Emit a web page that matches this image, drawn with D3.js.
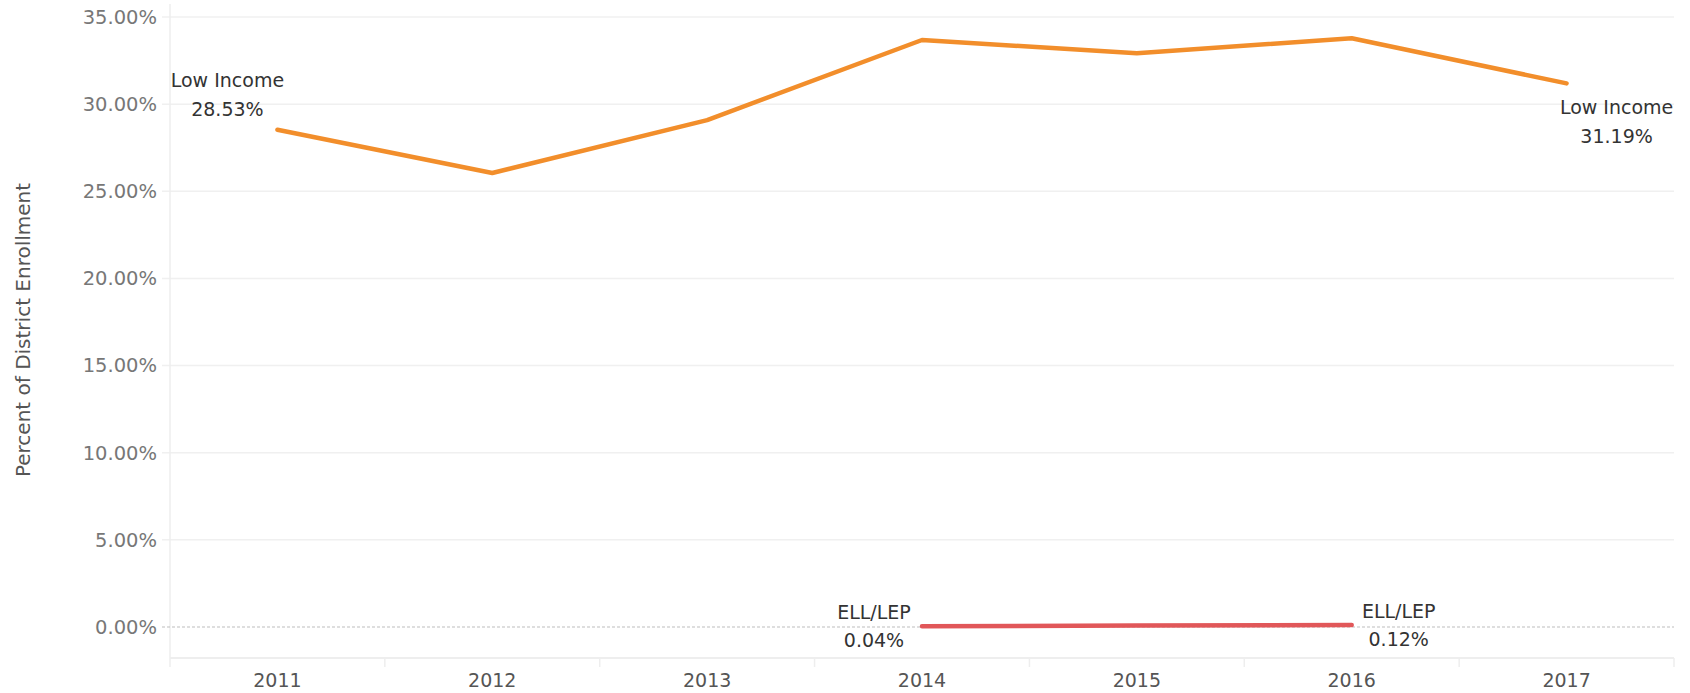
<!DOCTYPE html>
<html>
<head>
<meta charset="utf-8">
<script src="https://d3js.org/d3.v7.min.js"></script>
<style>
  body { margin: 0; background: #fff; }
  svg text { font-family: "DejaVu Sans", "Noto Sans", sans-serif; }
</style>
</head>
<body>
<div id="chart"></div>
<script>
// data
const years = ["2011", "2012", "2013", "2014", "2015", "2016", "2017"];
const lowIncome = [28.53, 26.05, 29.08, 33.68, 32.92, 33.78, 31.19];
const ellYears = ["2014", "2015", "2016"];
const ellLep = [0.04, 0.08, 0.12];
const yTicks = [0, 5, 10, 15, 20, 25, 30, 35];

const width = 1690, height = 693;
const margin = { top: 17, right: 16, bottom: 35, left: 170 };

const svg = d3.select("#chart")
    .append("svg")
    .attr("width", width)
    .attr("height", height);

const x = d3.scaleBand()
    .domain(years)
    .range([margin.left, width - margin.right])
    .padding(0);

const y = d3.scaleLinear()
    .domain([0, 35])
    .range([627, margin.top]);

const axisY = 658;
const cx = d => x(d) + x.bandwidth() / 2;

// gridlines
svg.append("g")
    .selectAll("line")
    .data(yTicks.filter(d => d > 0))
    .enter().append("line")
    .attr("x1", margin.left - 8)
    .attr("x2", width - margin.right)
    .attr("y1", d => y(d))
    .attr("y2", d => y(d))
    .attr("stroke", "#f0f0f0")
    .attr("stroke-width", 1.5);

// left border
svg.append("line")
    .attr("x1", margin.left).attr("x2", margin.left)
    .attr("y1", 4).attr("y2", axisY)
    .attr("stroke", "#eeeeee")
    .attr("stroke-width", 1.5);

// zero line
svg.append("line")
    .attr("x1", margin.left - 8)
    .attr("x2", width - margin.right)
    .attr("y1", y(0)).attr("y2", y(0))
    .attr("stroke", "#bdbdbd")
    .attr("stroke-dasharray", "3,2");

// bottom axis line and column dividers
svg.append("line")
    .attr("x1", margin.left).attr("x2", width - margin.right)
    .attr("y1", axisY).attr("y2", axisY)
    .attr("stroke", "#eeeeee")
    .attr("stroke-width", 2);

svg.append("g")
    .selectAll("line")
    .data(years.concat(["end"]))
    .enter().append("line")
    .attr("x1", (d, i) => margin.left + i * x.bandwidth())
    .attr("x2", (d, i) => margin.left + i * x.bandwidth())
    .attr("y1", axisY)
    .attr("y2", axisY + 9)
    .attr("stroke", "#eeeeee")
    .attr("stroke-width", 1.5);

// y tick labels
svg.append("g")
    .selectAll("text")
    .data(yTicks)
    .enter().append("text")
    .attr("x", 157)
    .attr("y", d => y(d))
    .attr("dy", "0.35em")
    .attr("text-anchor", "end")
    .attr("fill", "#777")
    .attr("font-size", 19.5)
    .text(d => d3.format(".2f")(d) + "%");

// x labels
svg.append("g")
    .selectAll("text")
    .data(years)
    .enter().append("text")
    .attr("x", d => cx(d))
    .attr("y", 680)
    .attr("dy", "0.35em")
    .attr("text-anchor", "middle")
    .attr("fill", "#555")
    .attr("font-size", 19)
    .text(d => d);

// y axis title
svg.append("text")
    .attr("transform", "translate(23,330) rotate(-90)")
    .attr("text-anchor", "middle")
    .attr("dy", "0.35em")
    .attr("fill", "#555")
    .attr("font-size", 20)
    .text("Percent of District Enrollment");

const line = d3.line()
    .x(d => cx(d[0]))
    .y(d => y(d[1]));

svg.append("path")
    .datum(years.map((d, i) => [d, lowIncome[i]]))
    .attr("d", line)
    .attr("fill", "none")
    .attr("stroke", "#f28e2b")
    .attr("stroke-width", 4.5)
    .attr("stroke-linecap", "round")
    .attr("stroke-linejoin", "round");

svg.append("path")
    .datum(ellYears.map((d, i) => [d, ellLep[i]]))
    .attr("d", line)
    .attr("fill", "none")
    .attr("stroke", "#e15759")
    .attr("stroke-width", 4.5)
    .attr("stroke-linecap", "round");

// end labels
const labels = [
    { name: "Low Income", year: "2011", value: lowIncome[0], dx: -50, dy: [-49, -20] },
    { name: "Low Income", year: "2017", value: lowIncome[6], dx: 50, dy: [24, 53] },
    { name: "ELL/LEP", year: "2014", value: ellLep[0], dx: -48, dy: [-14, 14] },
    { name: "ELL/LEP", year: "2016", value: ellLep[2], dx: 47, dy: [-14, 14] }
];

const lab = svg.append("g")
    .selectAll("g")
    .data(labels)
    .enter().append("g");

lab.append("text")
    .attr("x", d => cx(d.year) + d.dx)
    .attr("y", d => y(d.value) + d.dy[0])
    .attr("dy", "0.35em")
    .attr("text-anchor", "middle")
    .attr("fill", "#333")
    .attr("font-size", 19)
    .text(d => d.name);

lab.append("text")
    .attr("x", d => cx(d.year) + d.dx)
    .attr("y", d => y(d.value) + d.dy[1])
    .attr("dy", "0.35em")
    .attr("text-anchor", "middle")
    .attr("fill", "#333")
    .attr("font-size", 19)
    .text(d => d3.format(".2f")(d.value) + "%");
</script>
</body>
</html>
